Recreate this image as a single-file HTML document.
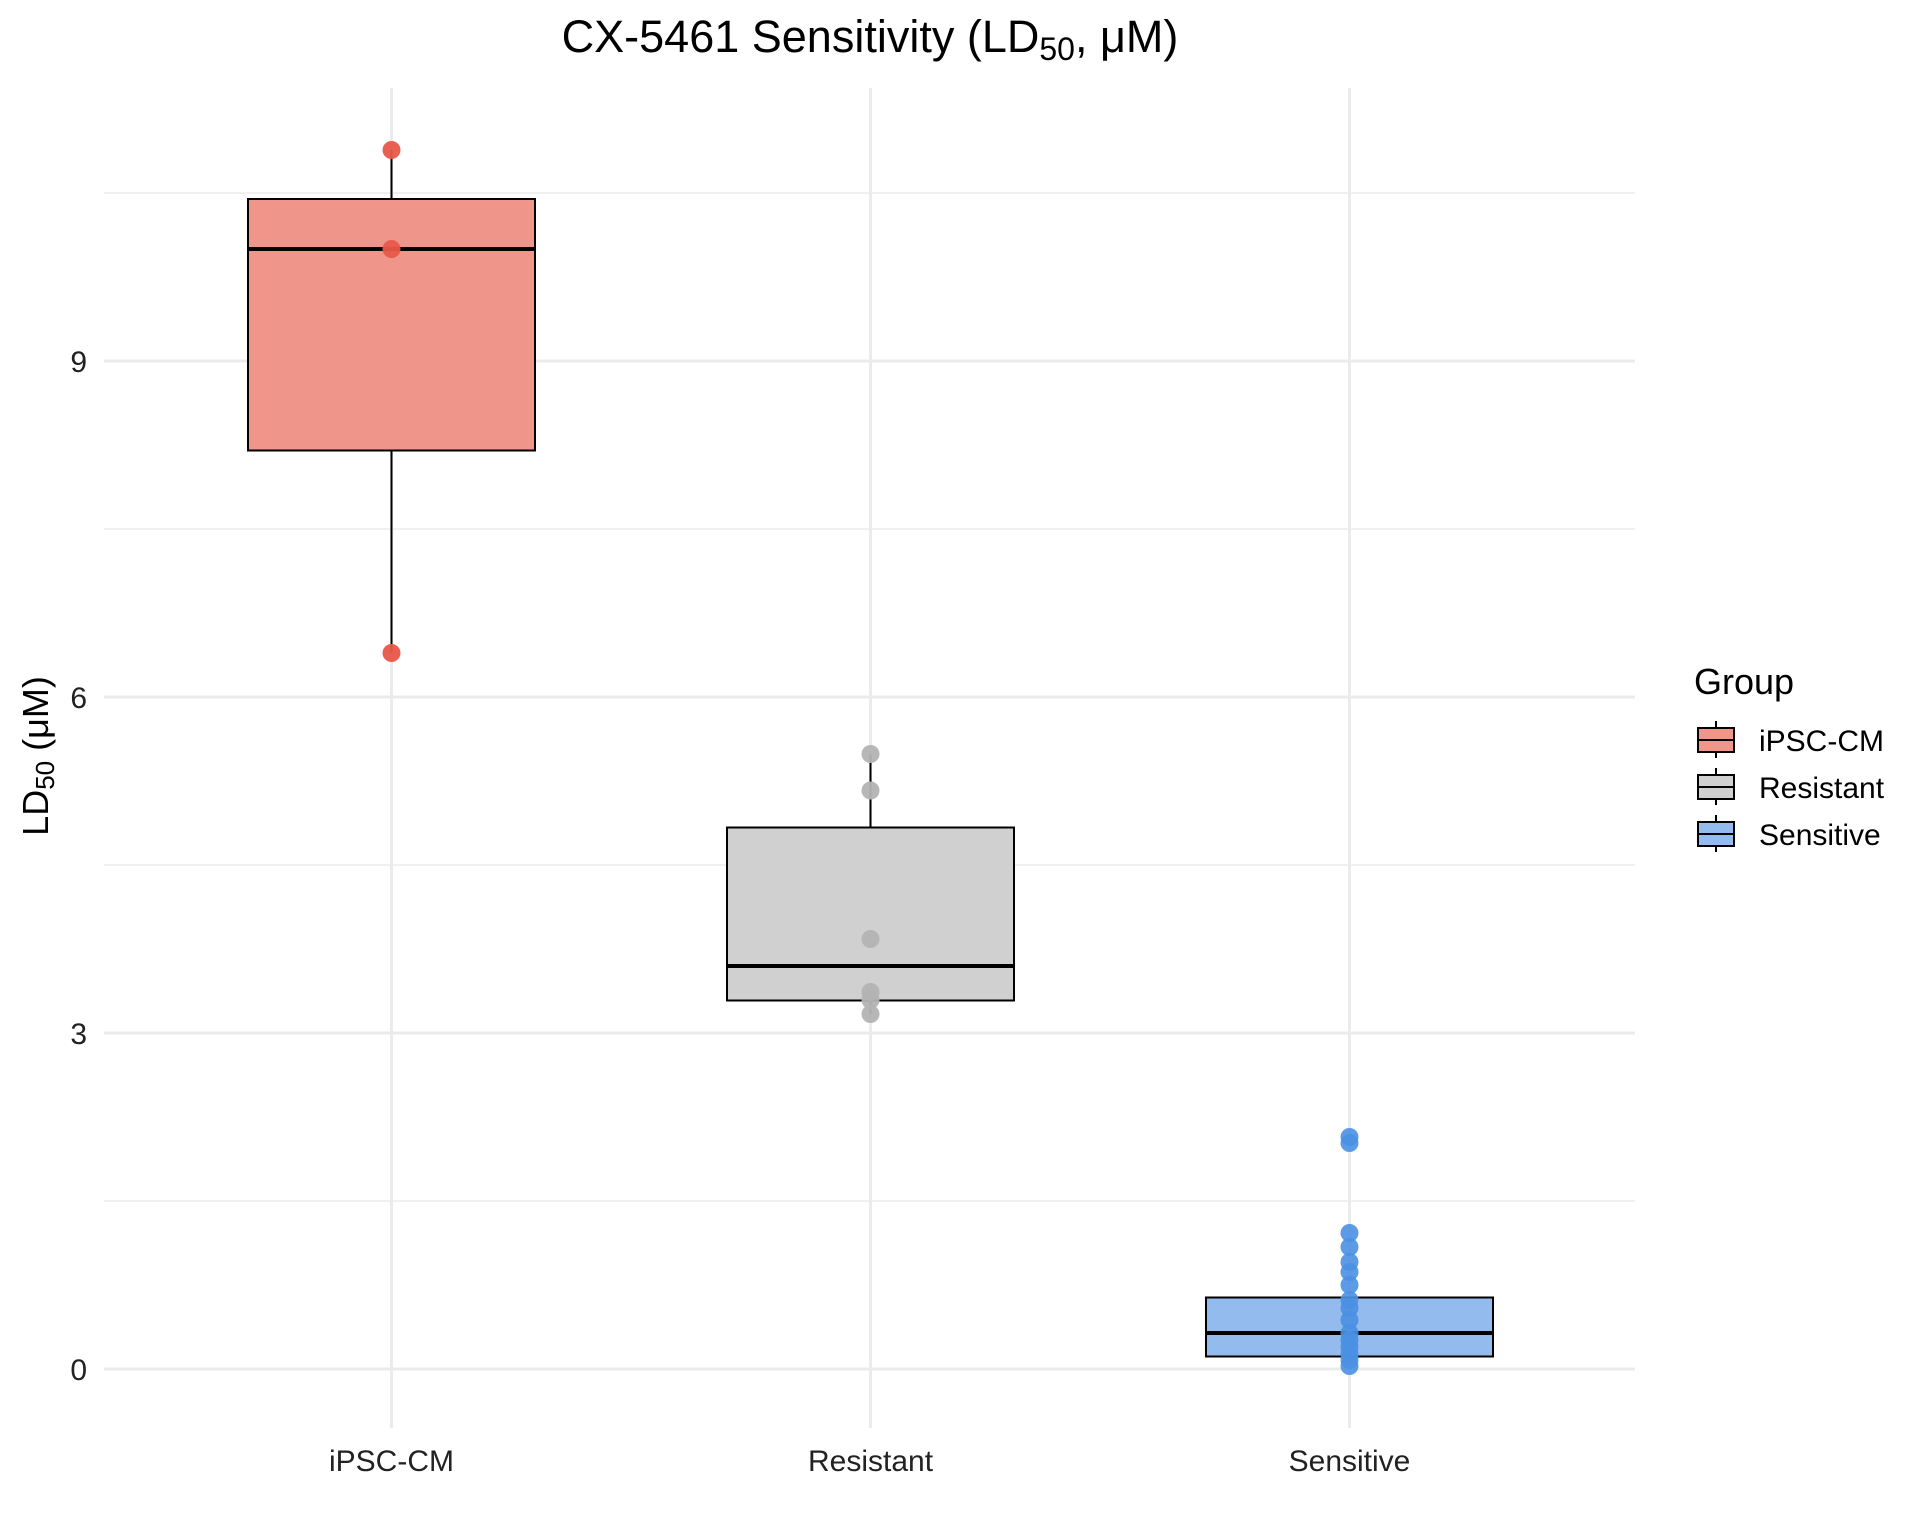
<!DOCTYPE html>
<html><head><meta charset="utf-8"><style>
html,body{margin:0;padding:0;background:#fff;}
svg{display:block;font-family:"Liberation Sans",Arial,sans-serif;}
</style></head><body>
<svg width="1920" height="1536" viewBox="0 0 1920 1536" xmlns="http://www.w3.org/2000/svg">
<rect width="1920" height="1536" fill="#fff"/>
<g stroke="#EBEBEB" stroke-width="1.5">
<line x1="104" x2="1635" y1="1201" y2="1201"/>
<line x1="104" x2="1635" y1="865" y2="865"/>
<line x1="104" x2="1635" y1="529" y2="529"/>
<line x1="104" x2="1635" y1="193" y2="193"/>
</g>
<g stroke="#EBEBEB" stroke-width="3">
<line x1="104" x2="1635" y1="1369" y2="1369"/>
<line x1="104" x2="1635" y1="1033" y2="1033"/>
<line x1="104" x2="1635" y1="697" y2="697"/>
<line x1="104" x2="1635" y1="361" y2="361"/>
<line x1="391.5" x2="391.5" y1="88" y2="1428"/>
<line x1="870.5" x2="870.5" y1="88" y2="1428"/>
<line x1="1349.5" x2="1349.5" y1="88" y2="1428"/>
</g>
<!-- iPSC-CM -->
<line x1="391.5" x2="391.5" y1="150" y2="653" stroke="#000" stroke-width="2"/>
<rect x="248" y="199" width="287" height="251.5" fill="#F0958A" stroke="#000" stroke-width="2"/>
<line x1="248" x2="535" y1="249" y2="249" stroke="#000" stroke-width="4"/>
<g fill="#E8574A" fill-opacity="0.95">
<circle cx="391.5" cy="150" r="9"/><circle cx="391.5" cy="249" r="9"/><circle cx="391.5" cy="653" r="9"/>
</g>
<!-- Resistant -->
<line x1="870.5" x2="870.5" y1="754" y2="1014" stroke="#000" stroke-width="2"/>
<rect x="727" y="827.5" width="287" height="173" fill="#D0D0D0" stroke="#000" stroke-width="2"/>
<line x1="727" x2="1014" y1="966" y2="966" stroke="#000" stroke-width="4"/>
<g fill="#B3B3B3" fill-opacity="0.95">
<circle cx="870.5" cy="754" r="9"/><circle cx="870.5" cy="790.5" r="9"/><circle cx="870.5" cy="939" r="9"/>
<circle cx="870.5" cy="992" r="9"/><circle cx="870.5" cy="1000" r="9"/><circle cx="870.5" cy="1014" r="9"/>
</g>
<!-- Sensitive -->
<rect x="1206" y="1297.5" width="287" height="59" fill="#93BBED" stroke="#000" stroke-width="2"/>
<line x1="1206" x2="1493" y1="1333" y2="1333" stroke="#000" stroke-width="4"/>
<g fill="#4A90E2" fill-opacity="0.9">
<circle cx="1349.5" cy="1137" r="9"/><circle cx="1349.5" cy="1143" r="9"/>
<circle cx="1349.5" cy="1233" r="9"/><circle cx="1349.5" cy="1247" r="9"/><circle cx="1349.5" cy="1262" r="9"/>
<circle cx="1349.5" cy="1272" r="9"/><circle cx="1349.5" cy="1285" r="9"/><circle cx="1349.5" cy="1300" r="9"/>
<circle cx="1349.5" cy="1308" r="9"/><circle cx="1349.5" cy="1320" r="9"/><circle cx="1349.5" cy="1333" r="9"/>
<circle cx="1349.5" cy="1340" r="9"/><circle cx="1349.5" cy="1347" r="9"/><circle cx="1349.5" cy="1354" r="9"/>
<circle cx="1349.5" cy="1360" r="9"/><circle cx="1349.5" cy="1366" r="9"/>
</g>
<text x="870" y="52" font-size="45" text-anchor="middle" fill="#000">CX-5461 Sensitivity (LD<tspan font-size="32" dy="8">50</tspan><tspan dy="-8">, μM)</tspan></text>
<g font-size="30" fill="#222" text-anchor="end">
<text x="87" y="1380">0</text>
<text x="87" y="1044">3</text>
<text x="87" y="708">6</text>
<text x="87" y="372">9</text>
</g>
<g font-size="30" fill="#222" text-anchor="middle">
<text x="391.5" y="1471">iPSC-CM</text>
<text x="870.5" y="1471">Resistant</text>
<text x="1349.5" y="1471">Sensitive</text>
</g>
<text transform="translate(48,756) rotate(-90)" font-size="36" text-anchor="middle" fill="#000">LD<tspan font-size="26" dy="6">50</tspan><tspan dy="-6"> (μM)</tspan></text>
<text x="1694" y="694" font-size="36" fill="#000">Group</text>
<g stroke="#000" stroke-width="2">
<line x1="1716" x2="1716" y1="721" y2="758"/>
<rect x="1698" y="728" width="36" height="24" fill="#F0958A"/>
<line x1="1698" x2="1734" y1="740" y2="740"/>
<line x1="1716" x2="1716" y1="768" y2="805"/>
<rect x="1698" y="775" width="36" height="24" fill="#D0D0D0"/>
<line x1="1698" x2="1734" y1="787" y2="787"/>
<line x1="1716" x2="1716" y1="815" y2="852"/>
<rect x="1698" y="822" width="36" height="24" fill="#93BBED"/>
<line x1="1698" x2="1734" y1="834" y2="834"/>
</g>
<g font-size="30" fill="#000">
<text x="1759" y="751">iPSC-CM</text>
<text x="1759" y="798">Resistant</text>
<text x="1759" y="845">Sensitive</text>
</g>
</svg>
</body></html>
